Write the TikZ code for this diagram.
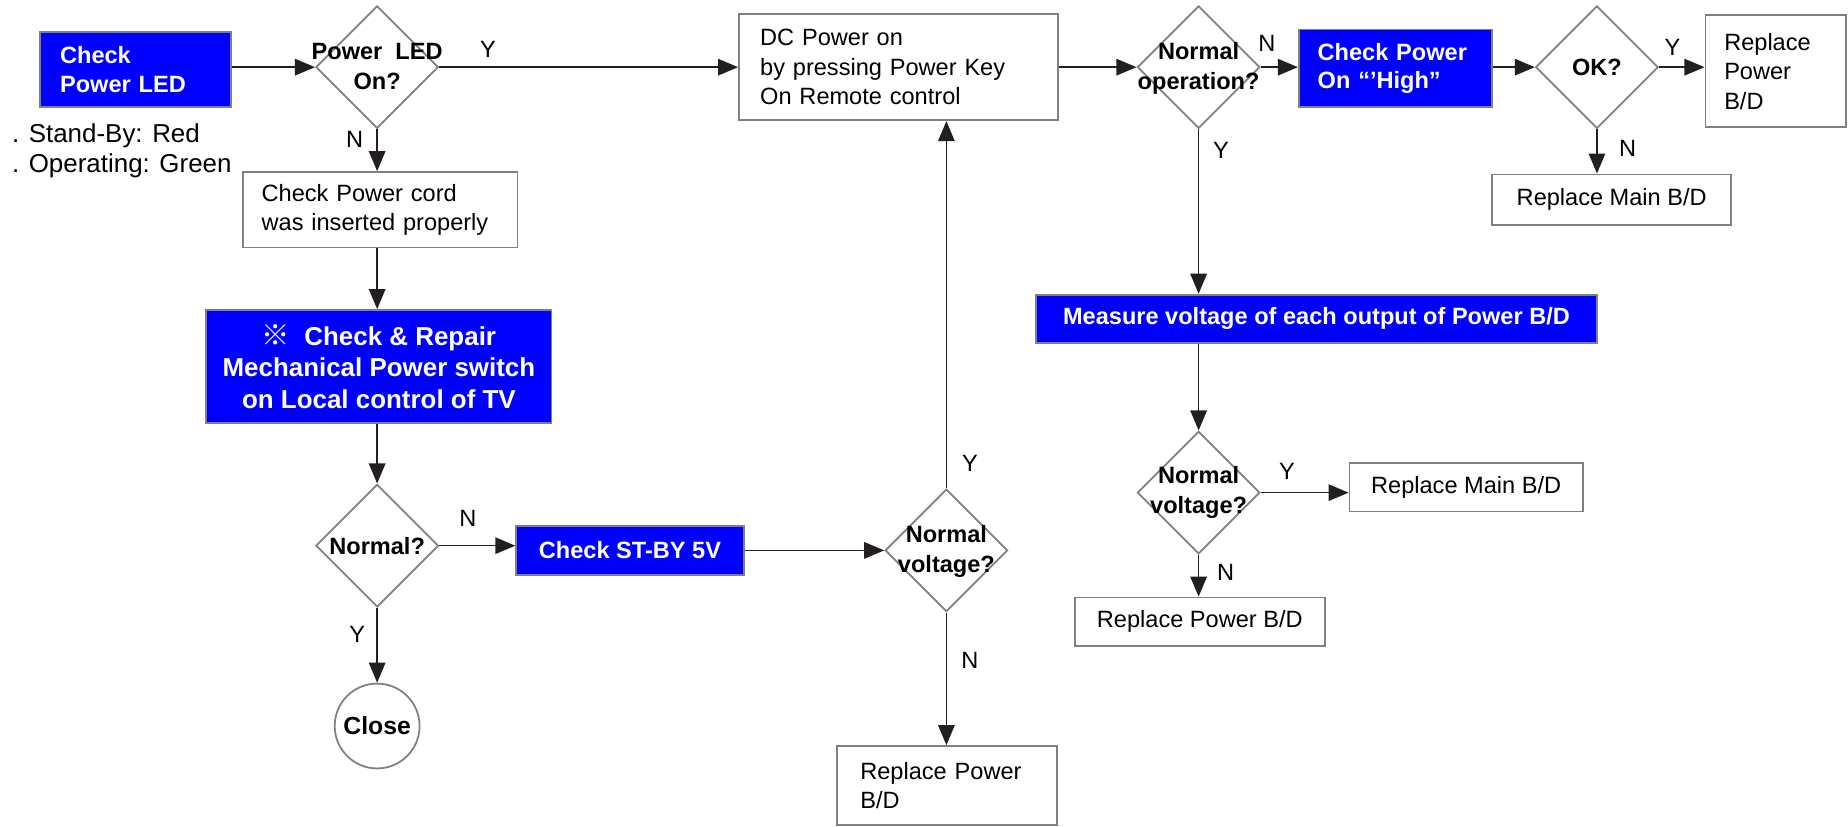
\documentclass[tikz,border=0pt]{standalone}
\usepackage{fontspec}
\setmainfont{Liberation Sans}
\newfontfamily\cjk{Noto Sans CJK SC}
\usetikzlibrary{shapes.geometric,arrows.meta}
\definecolor{bblue}{RGB}{0,0,255}
\definecolor{bgray}{RGB}{128,128,128}
\definecolor{ink}{RGB}{35,31,32}
\begin{document}
\begin{tikzpicture}[x=1pt,y=-1pt,
  every node/.style={font=\fontsize{20}{25}\selectfont},
  bluebox/.style={rectangle,draw=bgray,line width=1.5pt,fill=bblue,text=white,
     font=\fontsize{20}{24}\selectfont\bfseries,inner ysep=0pt},
  whitebox/.style={rectangle,draw=bgray,line width=1.5pt,fill=white,inner ysep=0pt},
  dia/.style={diamond,draw=bgray,line width=1.5pt,fill=white,inner sep=0pt,
     minimum width=104pt,minimum height=104pt},
  dtext/.style={font=\fontsize{20}{25}\selectfont\bfseries,align=center,inner sep=0pt},
  arr/.style={draw=ink,line width=1.3pt,-{Triangle[length=17pt,width=14pt]}},
  yn/.style={font=\fontsize{20}{24}\selectfont,inner sep=0pt}]
\useasboundingbox (0,0) rectangle (1568,701);

% left column
\node[bluebox,minimum width=162pt,minimum height=64pt,text width=128pt,inner xsep=17pt,align=left]
  (cpl) at (115,59) {Check\\Power LED};
\node[anchor=west,align=left,inner sep=0pt,font=\fontsize{22}{25}\selectfont] (sb) at (10,128)
  {. Stand-By: Red\\. Operating: Green};
\node[dia] (d1) at (320,57) {};
\node[dtext] (d1t) at (320,56.5) {Power\ \ LED\\On?};
\node[whitebox,minimum width=233pt,minimum height=64pt,text width=201pt,inner xsep=16pt,align=left]
  (cord) at (322.5,178) {Check Power cord\\was inserted properly};
\node[bluebox,minimum width=293pt,minimum height=96pt,align=center,
  font=\fontsize{22}{27}\selectfont\bfseries]
  (rep) at (321.5,311) {{\cjk\fontsize{24}{27}\selectfont ※}\ \ Check \& Repair\\Mechanical Power switch\\on Local control of TV};
\node[dia] (nrm) at (320,463) {};
\node[dtext] (nrmt) at (320,463) {Normal?};
\node[circle,draw=bgray,line width=1.5pt,minimum size=72pt,inner sep=0pt,
  font=\fontsize{21}{25}\selectfont\bfseries] (close) at (320,616) {Close};
\node[bluebox,minimum width=193pt,minimum height=42pt] (stby) at (534.5,467) {Check ST-BY 5V};

% middle column
\node[dia] (nv1) at (803,467) {};
\node[dtext] (nv1t) at (803,468) {Normal\\voltage?};
\node[whitebox,minimum width=187pt,minimum height=67pt,text width=147pt,inner xsep=20pt,align=left]
  (rpb1) at (803.5,666.5) {Replace Power\\B/D};
\node[whitebox,minimum width=271pt,minimum height=90pt,text width=235pt,inner xsep=18pt,align=left]
  (dc) at (762.5,57) {DC Power on\\by pressing Power Key\\On Remote control};

% right part
\node[dia] (nop) at (1017,57) {};
\node[dtext] (nopt) at (1017,58) {Normal\\operation?};
\node[bluebox,minimum width=164pt,minimum height=66pt,text width=132pt,inner xsep=16pt,align=left]
  (cph) at (1184,58) {Check Power\\On “’High”};
\node[dia] (ok) at (1355,57) {};
\node[dtext] (okt) at (1355,57) {OK?};
\node[whitebox,minimum width=119pt,minimum height=95pt,text width=87pt,inner xsep=16pt,align=left]
  (rpb2) at (1506.5,60.5) {Replace\\Power\\B/D};
\node[whitebox,minimum width=203pt,minimum height=43pt] (rmb1) at (1367.5,169.5) {Replace Main B/D};
\node[bluebox,minimum width=476pt,minimum height=41pt] (meas) at (1117,270.5)
  {Measure voltage of each output of Power B/D};
\node[dia] (nv2) at (1017,418) {};
\node[dtext] (nv2t) at (1017,418) {Normal\\voltage?};
\node[whitebox,minimum width=198pt,minimum height=41pt] (rmb2) at (1244,413.5) {Replace Main B/D};
\node[whitebox,minimum width=212pt,minimum height=41pt] (rpb3) at (1018,527.5) {Replace Power B/D};

% connectors
\draw[arr] (cpl.east |- d1) -- (d1.west);
\draw[arr] (d1.east) -- (dc.west);
\node[yn] (y1) at (414,42) {Y};
\draw[arr] (d1.south) -- (d1.south |- cord.north);
\node[yn] (n1) at (301,118) {N};
\draw[arr] (d1 |- cord.south) -- (d1 |- rep.north);
\draw[arr] (nrm |- rep.south) -- (nrm.north);
\draw[arr] (nrm.east) -- (nrm.east -| stby.west);
\node[yn] (n2) at (397,440) {N};
\draw[arr] (nrm.south) -- (close.north);
\node[yn] (y2) at (303,538) {Y};
\draw[arr] (stby.east) -- (nv1.west);
\draw[arr] (nv1.north) -- (nv1.north |- dc.south);
\node[yn] (y3) at (823,393) {Y};
\draw[arr] (nv1.south) -- (nv1.south |- rpb1.north);
\node[yn] (n3) at (823,560) {N};
\draw[arr] (dc.east) -- (nop.west);
\draw[arr] (nop.east) -- (nop.east -| cph.west);
\node[yn] (n4) at (1075,37) {N};
\draw[arr] (cph.east |- ok) -- (ok.west);
\draw[arr] (ok.east) -- (ok.east -| rpb2.west);
\node[yn] (y4) at (1419,40) {Y};
\draw[arr] (ok.south) -- (ok.south |- rmb1.north);
\node[yn] (n5) at (1381,126) {N};
\draw[arr] (nop.south) -- (nop.south |- meas.north);
\node[yn] (y5) at (1036,128) {Y};
\draw[arr] (nv2 |- meas.south) -- (nv2.north);
\draw[arr] (nv2.east) -- (nv2.east -| rmb2.west);
\node[yn] (y6) at (1092,400) {Y};
\draw[arr] (nv2.south) -- (nv2.south |- rpb3.north);
\node[yn] (n6) at (1040,486) {N};
\end{tikzpicture}
\end{document}
